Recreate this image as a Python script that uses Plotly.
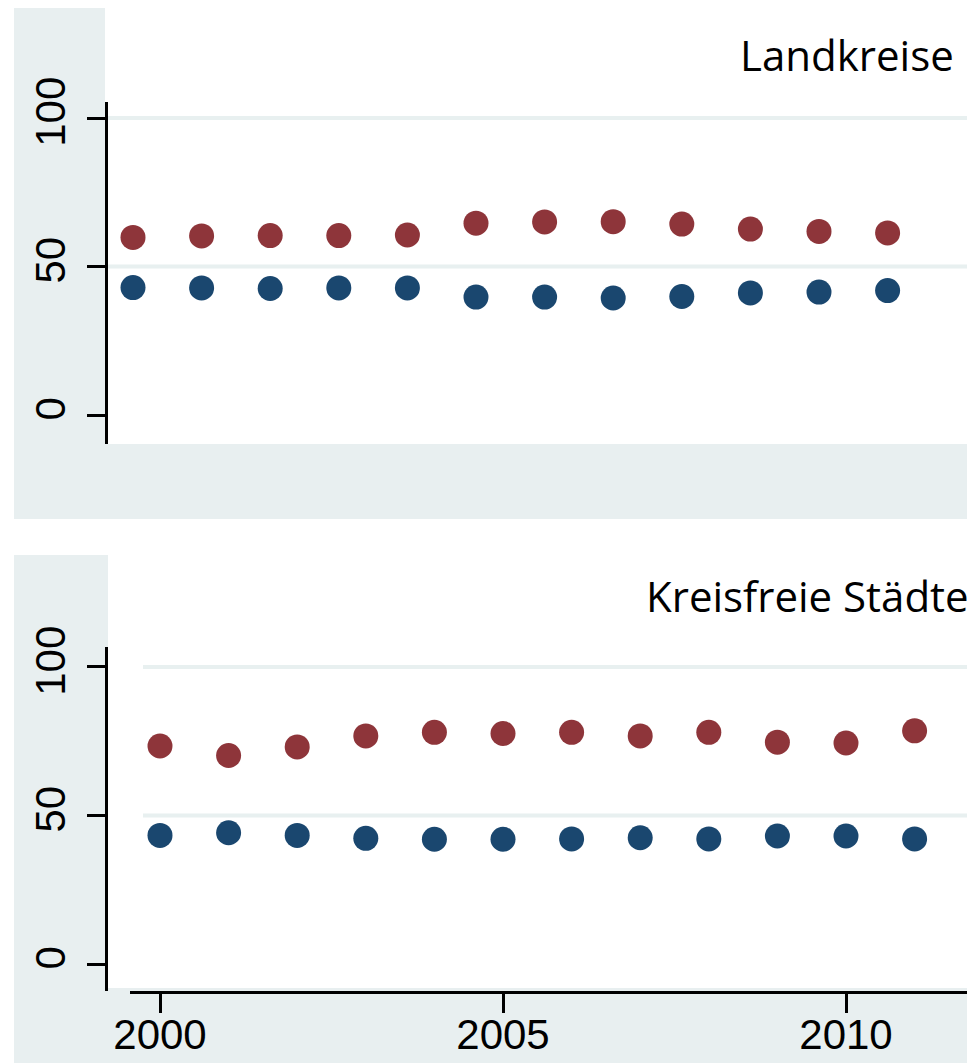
import plotly.graph_objects as go

# ---- data ----
years = list(range(2000, 2012))
land_red = [59.8, 60.3, 60.4, 60.4, 60.6, 64.6, 65.0, 65.1, 64.3, 62.6, 61.8, 61.3]
land_blue = [42.9, 42.8, 42.6, 42.8, 42.8, 39.7, 39.7, 39.4, 39.9, 41.1, 41.4, 41.9]
stadt_red = [73.4, 70.2, 73.1, 76.8, 78.0, 77.6, 78.0, 76.8, 78.0, 74.7, 74.4, 78.5]
stadt_blue = [43.3, 44.2, 43.3, 42.3, 42.0, 42.0, 42.1, 42.5, 42.1, 43.1, 43.1, 42.1]
y_ticks = [0, 50, 100]
grid_vals = [50, 100]
x_ticks = [2000, 2005, 2010]
titles = ["Landkreise", "Kreisfreie Städte"]

W, H = 975, 1063
OFF = 8  # page body margin offset
def px(x):
    return (x - OFF) / W
def py(y):
    return 1 - (y - OFF) / H

RED = "#8e353a"
BLUE = "#1a476f"
BG = "#e8eff0"
GRID = "#e8f0f0"
TICKFONT = dict(family="Liberation Sans, Arial", size=42, color="black")

fig = go.Figure()
marker_size = 25
fig.add_trace(go.Scatter(x=years, y=land_red, mode="markers", xaxis="x", yaxis="y",
                         marker=dict(color=RED, size=marker_size), showlegend=False))
fig.add_trace(go.Scatter(x=years, y=land_blue, mode="markers", xaxis="x", yaxis="y",
                         marker=dict(color=BLUE, size=marker_size), showlegend=False))
fig.add_trace(go.Scatter(x=years, y=stadt_red, mode="markers", xaxis="x2", yaxis="y2",
                         marker=dict(color=RED, size=marker_size), showlegend=False))
fig.add_trace(go.Scatter(x=years, y=stadt_blue, mode="markers", xaxis="x2", yaxis="y2",
                         marker=dict(color=BLUE, size=marker_size), showlegend=False))

shapes = []
# background bands (paper coords)
def rect(x0, y0, x1, y1):
    shapes.append(dict(type="rect", xref="paper", yref="paper", x0=px(x0), x1=px(x1),
                       y0=py(y1), y1=py(y0), fillcolor=BG, line=dict(width=0), layer="below"))
rect(14, 5, 105, 519)
rect(105, 444, 968, 519)
rect(14, 555, 108, 1063)
rect(108, 988, 968, 1063)

for v in grid_vals:
    shapes.append(dict(type="line", xref="paper", yref="y", x0=px(106), x1=px(968), y0=v, y1=v,
                       line=dict(color=GRID, width=4), layer="below"))
    shapes.append(dict(type="line", xref="paper", yref="y2", x0=px(143), x1=px(968), y0=v, y1=v,
                       line=dict(color=GRID, width=4), layer="below"))

yax_common = dict(tickvals=y_ticks, ticks="outside", ticklen=18, tickwidth=3, tickcolor="black",
                  showline=True, linewidth=3, linecolor="black", showgrid=False, zeroline=False,
                  tickangle=-90, tickfont=TICKFONT, anchor="free", position=px(105.5),
                  automargin=False, ticklabelstandoff=5)

fig.update_layout(
    width=W, height=H, margin=dict(l=0, r=0, t=0, b=0, pad=0),
    paper_bgcolor="white", plot_bgcolor="rgba(0,0,0,0)",
    shapes=shapes,
    xaxis=dict(domain=[px(105), px(968)], range=[2000 - 28 / 68.6, 2000 + 835 / 68.6],
               visible=False, anchor="y", automargin=False),
    yaxis=dict(domain=[py(444), py(102)], range=[-9.76, 105.39], **yax_common),
    xaxis2=dict(domain=[px(130), px(968)], range=[2000 - 30 / 68.6, 2000 + 808 / 68.6],
                anchor="y2", tickvals=x_ticks, ticks="outside", ticklen=19, tickwidth=3,
                tickcolor="black", showline=True, linewidth=3, linecolor="black",
                showgrid=False, zeroline=False, tickfont=TICKFONT, automargin=False,
                ticklabelstandoff=-14),
    yaxis2=dict(domain=[py(991), py(647)], range=[-9.09, 106.73], **yax_common),
    annotations=[
        dict(text=titles[0], xref="paper", yref="paper", x=px(956), y=py(54),
             xanchor="right", yanchor="middle", showarrow=False,
             font=dict(family="Open Sans", size=42, color="black")),
        dict(text=titles[1], xref="paper", yref="paper", x=px(971), y=py(595),
             xanchor="right", yanchor="middle", showarrow=False,
             font=dict(family="Open Sans", size=42, color="black")),
    ],
)

fig.write_html("out.html")
